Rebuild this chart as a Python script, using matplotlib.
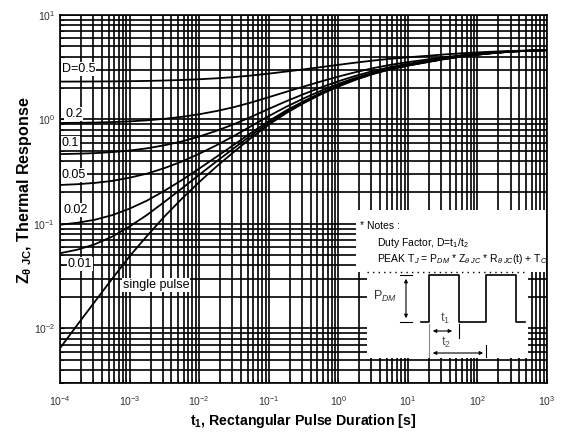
import matplotlib
matplotlib.use("Agg")
import matplotlib.pyplot as plt
from matplotlib.ticker import LogLocator, NullFormatter
from matplotlib.patches import Rectangle, FancyArrowPatch

plt.rcParams['font.family'] = ['Liberation Sans', 'DejaVu Sans']
plt.rcParams['mathtext.fontset'] = 'custom'
plt.rcParams['mathtext.rm'] = 'Liberation Sans'
plt.rcParams['mathtext.it'] = 'Liberation Sans:italic'
plt.rcParams['mathtext.bf'] = 'Liberation Sans:bold'

# pulse duration t1 [s], quarter-decade steps from 1e-4 to 1e3
t1 = [1.0e-4, 1.78e-4, 3.16e-4, 5.62e-4,
      1.0e-3, 1.78e-3, 3.16e-3, 5.62e-3,
      1.0e-2, 1.78e-2, 3.16e-2, 5.62e-2,
      1.0e-1, 1.78e-1, 3.16e-1, 5.62e-1,
      1.0e0, 1.78e0, 3.16e0, 5.62e0,
      1.0e1, 1.78e1, 3.16e1, 5.62e1,
      1.0e2, 1.78e2, 3.16e2, 5.62e2,
      1.0e3]

z_d050 = [2.303, 2.305, 2.309, 2.315, 2.325, 2.338, 2.359, 2.387, 2.426, 2.477,
          2.545, 2.634, 2.746, 2.874, 3.015, 3.169, 3.333, 3.500, 3.662, 3.810,
          3.937, 4.054, 4.179, 4.291, 4.385, 4.468, 4.534, 4.575, 4.602]
z_d020 = [0.925, 0.929, 0.934, 0.944, 0.959, 0.981, 1.014, 1.059, 1.121, 1.204,
          1.312, 1.455, 1.633, 1.838, 2.063, 2.310, 2.572, 2.839, 3.098, 3.336,
          3.538, 3.726, 3.926, 4.105, 4.255, 4.388, 4.494, 4.560, 4.602]
z_d010 = [0.466, 0.470, 0.476, 0.487, 0.504, 0.529, 0.566, 0.616, 0.686, 0.779,
          0.901, 1.061, 1.262, 1.493, 1.746, 2.024, 2.319, 2.619, 2.911, 3.178,
          3.406, 3.617, 3.842, 4.043, 4.212, 4.362, 4.480, 4.555, 4.603]
z_d005 = [0.236, 0.240, 0.247, 0.258, 0.277, 0.303, 0.342, 0.395, 0.469, 0.567,
          0.695, 0.865, 1.077, 1.321, 1.588, 1.881, 2.192, 2.509, 2.817, 3.099,
          3.339, 3.563, 3.800, 4.012, 4.191, 4.348, 4.474, 4.553, 4.603]
z_d002 = [0.0983, 0.1026, 0.1096, 0.1213, 0.1400, 0.1672, 0.2072, 0.2623, 0.3382, 0.4397,
          0.5720, 0.7469, 0.9655, 1.217, 1.492, 1.795, 2.116, 2.443, 2.761, 3.052,
          3.300, 3.530, 3.775, 3.993, 4.178, 4.340, 4.470, 4.551, 4.603]
z_d001 = [0.0524, 0.0567, 0.0638, 0.0756, 0.0945, 0.1219, 0.1623, 0.2181, 0.2947, 0.3973,
          0.5309, 0.7076, 0.9284, 1.183, 1.461, 1.767, 2.090, 2.421, 2.742, 3.036,
          3.286, 3.519, 3.766, 3.987, 4.173, 4.338, 4.468, 4.550, 4.603]
z_single = [0.00646, 0.01084, 0.01799, 0.02985, 0.0490, 0.0767, 0.1175, 0.1738, 0.2512, 0.3548,
            0.4898, 0.6683, 0.8913, 1.148, 1.429, 1.738, 2.065, 2.399, 2.723, 3.020,
            3.273, 3.508, 3.758, 3.981, 4.169, 4.335, 4.467, 4.550, 4.603]

curves = [z_d050, z_d020, z_d010, z_d005, z_d002, z_d001, z_single]

x_major = [1e-4, 1e-3, 1e-2, 1e-1, 1e0, 1e1, 1e2, 1e3]
y_major = [1e-2, 1e-1, 1e0, 1e1]

W, H = 567, 437
fig = plt.figure(figsize=(W / 100, H / 100), dpi=100)
ax = fig.add_axes([60 / W, 1 - 383 / H, (547 - 60) / W, (383 - 15) / H])


def px(x, y):
    """figure pixel (from top-left) -> figure fraction"""
    return x / W, 1 - y / H


ax.set_xscale('log')
ax.set_yscale('log')
ax.set_xticks(x_major)
ax.set_yticks(y_major)
ax.xaxis.set_minor_locator(LogLocator(base=10, subs=range(2, 10), numticks=100))
ax.yaxis.set_minor_locator(LogLocator(base=10, subs=range(2, 10), numticks=100))
ax.xaxis.set_minor_formatter(NullFormatter())
ax.yaxis.set_minor_formatter(NullFormatter())
ax.set_xlim(1e-4, 1e3)
ax.set_ylim(3e-3, 1e1)

ax.grid(True, which='both', color='black', linewidth=1.2)
ax.tick_params(which='both', direction='in', length=3, color='black')
ax.tick_params(labelsize=7.5, labelcolor='#333333')
ax.tick_params(axis='x', pad=8)
for s in ax.spines.values():
    s.set_color('black')
    s.set_linewidth(1.2)

for c in curves:
    ax.plot(t1, c, color='black', linewidth=1.3, zorder=3)

ax.set_xlabel(r't$_{\mathbf{1}}$, Rectangular Pulse Duration [s]', fontsize=10.2,
              fontweight='bold', labelpad=3)
fig.text(25 / W, 1 - 190 / H, r'Z$_{\mathbf{\theta\ JC}}$, Thermal Response',
         fontsize=11.5, fontweight='bold', rotation=90, ha='center', va='center')

lbl = dict(fontsize=9, color='black', va='center', ha='left', zorder=5,
           bbox=dict(facecolor='white', edgecolor='none', pad=0.5))
labels = [("D=0.5", 62, 69), ("0.2", 65, 114), ("0.1", 62, 143), ("0.05", 62, 175),
          ("0.02", 63, 210), ("0.01", 68, 264), ("single pulse", 123, 285)]
for txt, x, y in labels:
    fig.text(*px(x, y), txt, **lbl)

# notes box (upper text part and lower waveform part)
fig.patches.append(Rectangle(px(356, 272), (546 - 356) / W, (272 - 210) / H,
                             transform=fig.transFigure, facecolor='white',
                             edgecolor='none', zorder=4))
fig.patches.append(Rectangle(px(367, 358), (528 - 367) / W, (358 - 271) / H,
                             transform=fig.transFigure, facecolor='white',
                             edgecolor='none', zorder=4))
nt = dict(fontsize=7.5, color='black', va='center', ha='left', zorder=6)
fig.text(*px(360, 226), "* Notes :", **nt)
fig.text(*px(377, 243), r"Duty Factor, D=t$_1$/t$_2$", **nt)
fig.text(*px(377, 259),
         r"PEAK T$_J$ = P$_{DM}$ * Z$_{\theta\ JC}$ * R$_{\theta\ JC}$(t) + T$_C$", **nt)

fig.add_artist(plt.Line2D([367 / W, 527 / W], [1 - 272 / H] * 2, color='black',
                          linestyle=(0, (1, 3)), linewidth=1, zorder=6))

wx = [421, 429, 429, 459, 459, 486, 486, 516, 516, 525]
wy = [322, 322, 275, 275, 322, 322, 275, 275, 322, 322]
fig.add_artist(plt.Line2D([v / W for v in wx], [1 - v / H for v in wy],
                          color='black', linewidth=1.2, zorder=6))
for yy in (275, 322):
    fig.add_artist(plt.Line2D([400 / W, 412 / W], [1 - yy / H] * 2,
                              color='black', linewidth=0.8, zorder=6))


def arrow(x0, y0, x1, y1):
    fig.patches.append(FancyArrowPatch(px(x0, y0), px(x1, y1),
                                       transform=fig.transFigure, arrowstyle='<|-|>',
                                       mutation_scale=5, color='black',
                                       linewidth=0.8, zorder=6))


arrow(406, 276, 406, 321)
arrow(430, 331, 455, 331)
arrow(430, 353, 486, 353)
fig.add_artist(plt.Line2D([459 / W] * 2, [1 - 324 / H, 1 - 338 / H],
                          color='black', linewidth=0.8, zorder=6))
fig.add_artist(plt.Line2D([429 / W] * 2, [1 - 324 / H, 1 - 357 / H],
                          color='#888888', linewidth=0.8, zorder=6))
fig.add_artist(plt.Line2D([486 / W] * 2, [1 - 345 / H, 1 - 357 / H],
                          color='black', linewidth=0.8, zorder=6))
fig.text(*px(373, 296), r"P$_{DM}$", fontsize=9, color='#333333', va='center',
         ha='left', zorder=6)
fig.text(*px(440, 318), r"t$_1$", fontsize=9, color='#555555', va='center',
         ha='left', zorder=6)
fig.text(*px(441, 342), r"t$_2$", fontsize=9, color='#555555', va='center',
         ha='left', zorder=6)

fig.savefig("out.png", dpi=100)
